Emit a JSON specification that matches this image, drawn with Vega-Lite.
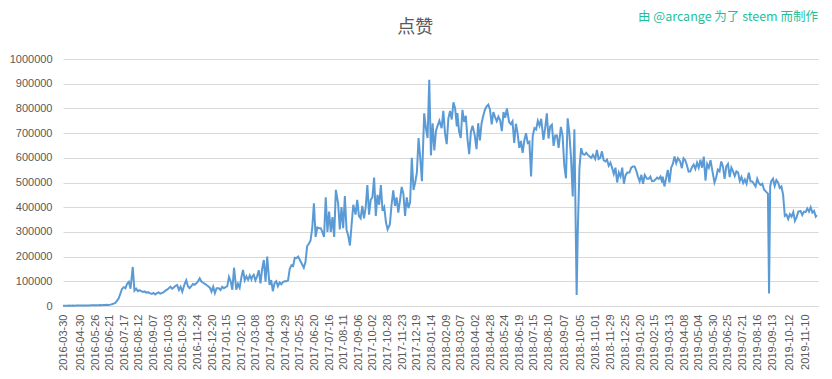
{
"$schema":"https://vega.github.io/schema/vega-lite/v6.json",
"width":755,"height":247,
"autosize":{"type":"none"},
"padding":{"left":63,"top":59,"right":14,"bottom":73},
"background":"white",
"config":{"view":{"stroke":null},"font":"Liberation Sans"},
"resolve":{"axis":{"x":"independent","y":"independent"}},
"layer":[
{"data":{"values":[
{"d":"2016-03-30","v":1000},
{"d":"2016-04-01","v":1200},{"d":"2016-04-04","v":1500},{"d":"2016-04-07","v":1300},{"d":"2016-04-10","v":1600},{"d":"2016-04-13","v":1400},{"d":"2016-04-16","v":1800},{"d":"2016-04-19","v":1500},{"d":"2016-04-22","v":1700},{"d":"2016-04-25","v":1900},{"d":"2016-04-28","v":1600},
{"d":"2016-05-01","v":2000},{"d":"2016-05-04","v":1800},{"d":"2016-05-07","v":2300},{"d":"2016-05-10","v":2100},{"d":"2016-05-13","v":2500},{"d":"2016-05-16","v":2200},{"d":"2016-05-19","v":2800},{"d":"2016-05-22","v":2600},{"d":"2016-05-25","v":3000},{"d":"2016-05-28","v":2700},
{"d":"2016-06-01","v":3500},{"d":"2016-06-04","v":4000},{"d":"2016-06-07","v":3200},{"d":"2016-06-10","v":4500},{"d":"2016-06-13","v":3800},{"d":"2016-06-16","v":4800},{"d":"2016-06-19","v":4200},{"d":"2016-06-22","v":5500},{"d":"2016-06-25","v":7000},{"d":"2016-06-28","v":9500},
{"d":"2016-07-01","v":12000},{"d":"2016-07-04","v":22000},{"d":"2016-07-07","v":31000},{"d":"2016-07-10","v":50000},{"d":"2016-07-13","v":70000},{"d":"2016-07-16","v":76000},{"d":"2016-07-19","v":72000},{"d":"2016-07-22","v":90000},{"d":"2016-07-25","v":98000},{"d":"2016-07-28","v":70000},
{"d":"2016-08-01","v":158000},{"d":"2016-08-04","v":62000},{"d":"2016-08-07","v":70000},{"d":"2016-08-10","v":60000},{"d":"2016-08-13","v":64000},{"d":"2016-08-16","v":60000},{"d":"2016-08-19","v":57000},{"d":"2016-08-22","v":59000},{"d":"2016-08-25","v":54000},{"d":"2016-08-28","v":56000},
{"d":"2016-09-01","v":51000},{"d":"2016-09-04","v":49000},{"d":"2016-09-07","v":53000},{"d":"2016-09-10","v":47000},{"d":"2016-09-13","v":52000},{"d":"2016-09-16","v":55000},{"d":"2016-09-19","v":50000},{"d":"2016-09-22","v":53000},{"d":"2016-09-25","v":56000},{"d":"2016-09-28","v":62000},
{"d":"2016-10-01","v":66000},{"d":"2016-10-04","v":72000},{"d":"2016-10-07","v":78000},{"d":"2016-10-10","v":70000},{"d":"2016-10-13","v":75000},{"d":"2016-10-16","v":82000},{"d":"2016-10-19","v":85000},{"d":"2016-10-22","v":65000},{"d":"2016-10-25","v":78000},{"d":"2016-10-28","v":58000},
{"d":"2016-11-01","v":88000},{"d":"2016-11-04","v":104000},{"d":"2016-11-07","v":80000},{"d":"2016-11-10","v":72000},{"d":"2016-11-13","v":80000},{"d":"2016-11-16","v":89000},{"d":"2016-11-19","v":86000},{"d":"2016-11-22","v":92000},{"d":"2016-11-25","v":100000},{"d":"2016-11-28","v":112000},
{"d":"2016-12-01","v":99000},{"d":"2016-12-04","v":94000},{"d":"2016-12-07","v":90000},{"d":"2016-12-10","v":85000},{"d":"2016-12-13","v":80000},{"d":"2016-12-16","v":74000},{"d":"2016-12-19","v":58000},{"d":"2016-12-22","v":78000},{"d":"2016-12-25","v":52000},{"d":"2016-12-28","v":72000},
{"d":"2017-01-01","v":72000},{"d":"2017-01-04","v":65000},{"d":"2017-01-07","v":78000},{"d":"2017-01-10","v":72000},{"d":"2017-01-13","v":76000},{"d":"2017-01-16","v":80000},{"d":"2017-01-19","v":118000},{"d":"2017-01-22","v":100000},{"d":"2017-01-25","v":66000},{"d":"2017-01-28","v":155000},
{"d":"2017-02-01","v":66000},{"d":"2017-02-04","v":90000},{"d":"2017-02-07","v":74000},{"d":"2017-02-10","v":115000},{"d":"2017-02-13","v":146000},{"d":"2017-02-16","v":104000},{"d":"2017-02-19","v":120000},{"d":"2017-02-22","v":106000},{"d":"2017-02-25","v":124000},{"d":"2017-02-28","v":108000},
{"d":"2017-03-01","v":118000},{"d":"2017-03-04","v":126000},{"d":"2017-03-07","v":104000},{"d":"2017-03-10","v":120000},{"d":"2017-03-13","v":145000},{"d":"2017-03-16","v":92000},{"d":"2017-03-19","v":150000},{"d":"2017-03-22","v":186000},{"d":"2017-03-25","v":98000},{"d":"2017-03-28","v":200000},
{"d":"2017-04-01","v":85000},{"d":"2017-04-04","v":105000},{"d":"2017-04-07","v":60000},{"d":"2017-04-10","v":92000},{"d":"2017-04-13","v":100000},{"d":"2017-04-16","v":80000},{"d":"2017-04-19","v":95000},{"d":"2017-04-22","v":88000},{"d":"2017-04-25","v":97000},{"d":"2017-04-28","v":100000},
{"d":"2017-05-01","v":100000},{"d":"2017-05-04","v":104000},{"d":"2017-05-07","v":150000},{"d":"2017-05-10","v":165000},{"d":"2017-05-13","v":162000},{"d":"2017-05-16","v":195000},{"d":"2017-05-19","v":194000},{"d":"2017-05-22","v":200000},{"d":"2017-05-25","v":186000},{"d":"2017-05-28","v":173000},
{"d":"2017-06-01","v":155000},{"d":"2017-06-04","v":178000},{"d":"2017-06-07","v":242000},{"d":"2017-06-10","v":252000},{"d":"2017-06-13","v":265000},{"d":"2017-06-16","v":315000},{"d":"2017-06-19","v":416000},{"d":"2017-06-22","v":280000},{"d":"2017-06-25","v":318000},{"d":"2017-06-28","v":315000},
{"d":"2017-07-01","v":315000},{"d":"2017-07-04","v":300000},{"d":"2017-07-07","v":280000},{"d":"2017-07-10","v":440000},{"d":"2017-07-13","v":300000},{"d":"2017-07-16","v":382000},{"d":"2017-07-19","v":300000},{"d":"2017-07-22","v":360000},{"d":"2017-07-25","v":280000},{"d":"2017-07-28","v":470000},
{"d":"2017-08-01","v":416000},{"d":"2017-08-04","v":310000},{"d":"2017-08-07","v":400000},{"d":"2017-08-10","v":315000},{"d":"2017-08-13","v":445000},{"d":"2017-08-16","v":308000},{"d":"2017-08-19","v":285000},{"d":"2017-08-22","v":245000},{"d":"2017-08-25","v":330000},{"d":"2017-08-28","v":410000},
{"d":"2017-09-01","v":370000},{"d":"2017-09-04","v":430000},{"d":"2017-09-07","v":365000},{"d":"2017-09-10","v":355000},{"d":"2017-09-13","v":405000},{"d":"2017-09-16","v":355000},{"d":"2017-09-19","v":400000},{"d":"2017-09-22","v":490000},{"d":"2017-09-25","v":370000},{"d":"2017-09-28","v":430000},
{"d":"2017-10-01","v":440000},{"d":"2017-10-04","v":520000},{"d":"2017-10-07","v":365000},{"d":"2017-10-10","v":450000},{"d":"2017-10-13","v":410000},{"d":"2017-10-16","v":490000},{"d":"2017-10-19","v":385000},{"d":"2017-10-22","v":400000},{"d":"2017-10-25","v":340000},{"d":"2017-10-28","v":310000},
{"d":"2017-11-01","v":330000},{"d":"2017-11-04","v":410000},{"d":"2017-11-07","v":468000},{"d":"2017-11-10","v":405000},{"d":"2017-11-13","v":440000},{"d":"2017-11-16","v":378000},{"d":"2017-11-19","v":428000},{"d":"2017-11-22","v":482000},{"d":"2017-11-25","v":455000},{"d":"2017-11-28","v":365000},
{"d":"2017-12-01","v":440000},{"d":"2017-12-04","v":396000},{"d":"2017-12-07","v":420000},{"d":"2017-12-10","v":600000},{"d":"2017-12-13","v":470000},{"d":"2017-12-16","v":500000},{"d":"2017-12-19","v":540000},{"d":"2017-12-22","v":680000},{"d":"2017-12-25","v":600000},{"d":"2017-12-28","v":505000},
{"d":"2018-01-01","v":780000},{"d":"2018-01-04","v":720000},{"d":"2018-01-07","v":680000},{"d":"2018-01-10","v":916000},{"d":"2018-01-13","v":610000},{"d":"2018-01-16","v":740000},{"d":"2018-01-19","v":630000},{"d":"2018-01-22","v":710000},{"d":"2018-01-25","v":730000},{"d":"2018-01-28","v":750000},
{"d":"2018-02-01","v":720000},{"d":"2018-02-04","v":790000},{"d":"2018-02-07","v":700000},{"d":"2018-02-10","v":655000},{"d":"2018-02-13","v":760000},{"d":"2018-02-16","v":790000},{"d":"2018-02-19","v":755000},{"d":"2018-02-22","v":825000},{"d":"2018-02-25","v":800000},{"d":"2018-02-28","v":727000},
{"d":"2018-03-01","v":781000},{"d":"2018-03-04","v":707000},{"d":"2018-03-07","v":680000},{"d":"2018-03-10","v":794000},{"d":"2018-03-13","v":745000},{"d":"2018-03-16","v":770000},{"d":"2018-03-19","v":675000},{"d":"2018-03-22","v":615000},{"d":"2018-03-25","v":705000},{"d":"2018-03-28","v":730000},
{"d":"2018-04-01","v":690000},{"d":"2018-04-04","v":635000},{"d":"2018-04-07","v":740000},{"d":"2018-04-10","v":670000},{"d":"2018-04-13","v":740000},{"d":"2018-04-16","v":770000},{"d":"2018-04-19","v":795000},{"d":"2018-04-22","v":808000},{"d":"2018-04-25","v":815000},{"d":"2018-04-28","v":795000},
{"d":"2018-05-01","v":735000},{"d":"2018-05-04","v":785000},{"d":"2018-05-07","v":765000},{"d":"2018-05-10","v":748000},{"d":"2018-05-13","v":767000},{"d":"2018-05-16","v":752000},{"d":"2018-05-19","v":708000},{"d":"2018-05-22","v":785000},{"d":"2018-05-25","v":762000},{"d":"2018-05-28","v":800000},
{"d":"2018-06-01","v":745000},{"d":"2018-06-04","v":736000},{"d":"2018-06-07","v":748000},{"d":"2018-06-10","v":660000},{"d":"2018-06-13","v":738000},{"d":"2018-06-16","v":700000},{"d":"2018-06-19","v":640000},{"d":"2018-06-22","v":668000},{"d":"2018-06-25","v":620000},{"d":"2018-06-28","v":670000},
{"d":"2018-07-01","v":700000},{"d":"2018-07-04","v":660000},{"d":"2018-07-07","v":665000},{"d":"2018-07-10","v":524000},{"d":"2018-07-13","v":690000},{"d":"2018-07-16","v":720000},{"d":"2018-07-19","v":715000},{"d":"2018-07-22","v":750000},{"d":"2018-07-25","v":730000},{"d":"2018-07-28","v":758000},
{"d":"2018-08-01","v":673000},{"d":"2018-08-04","v":720000},{"d":"2018-08-07","v":780000},{"d":"2018-08-10","v":678000},{"d":"2018-08-13","v":727000},{"d":"2018-08-16","v":734000},{"d":"2018-08-19","v":648000},{"d":"2018-08-22","v":690000},{"d":"2018-08-25","v":690000},{"d":"2018-08-28","v":640000},
{"d":"2018-09-01","v":725000},{"d":"2018-09-04","v":690000},{"d":"2018-09-07","v":570000},{"d":"2018-09-10","v":517000},{"d":"2018-09-13","v":760000},{"d":"2018-09-16","v":700000},{"d":"2018-09-19","v":600000},{"d":"2018-09-22","v":443000},{"d":"2018-09-25","v":715000},{"d":"2018-09-29","v":45000},
{"d":"2018-10-01","v":300000},{"d":"2018-10-04","v":560000},{"d":"2018-10-07","v":639000},{"d":"2018-10-10","v":615000},{"d":"2018-10-13","v":612000},{"d":"2018-10-16","v":620000},{"d":"2018-10-19","v":612000},{"d":"2018-10-22","v":605000},{"d":"2018-10-25","v":600000},{"d":"2018-10-28","v":612000},
{"d":"2018-11-01","v":595000},{"d":"2018-11-04","v":632000},{"d":"2018-11-07","v":595000},{"d":"2018-11-10","v":600000},{"d":"2018-11-13","v":626000},{"d":"2018-11-16","v":590000},{"d":"2018-11-19","v":585000},{"d":"2018-11-22","v":592000},{"d":"2018-11-25","v":568000},{"d":"2018-11-28","v":580000},
{"d":"2018-12-01","v":560000},{"d":"2018-12-04","v":535000},{"d":"2018-12-07","v":560000},{"d":"2018-12-10","v":500000},{"d":"2018-12-13","v":540000},{"d":"2018-12-16","v":524000},{"d":"2018-12-19","v":560000},{"d":"2018-12-22","v":495000},{"d":"2018-12-25","v":530000},{"d":"2018-12-28","v":540000},
{"d":"2019-01-01","v":540000},{"d":"2019-01-04","v":560000},{"d":"2019-01-07","v":565000},{"d":"2019-01-10","v":565000},{"d":"2019-01-13","v":548000},{"d":"2019-01-16","v":524000},{"d":"2019-01-19","v":505000},{"d":"2019-01-22","v":531000},{"d":"2019-01-25","v":495000},{"d":"2019-01-28","v":530000},
{"d":"2019-02-01","v":515000},{"d":"2019-02-04","v":515000},{"d":"2019-02-07","v":524000},{"d":"2019-02-10","v":505000},{"d":"2019-02-13","v":506000},{"d":"2019-02-16","v":512000},{"d":"2019-02-19","v":520000},{"d":"2019-02-22","v":515000},{"d":"2019-02-25","v":524000},{"d":"2019-02-28","v":500000},
{"d":"2019-03-01","v":524000},{"d":"2019-03-04","v":484000},{"d":"2019-03-07","v":517000},{"d":"2019-03-10","v":551000},{"d":"2019-03-13","v":500000},{"d":"2019-03-16","v":560000},{"d":"2019-03-19","v":575000},{"d":"2019-03-22","v":605000},{"d":"2019-03-25","v":578000},{"d":"2019-03-28","v":598000},
{"d":"2019-04-01","v":585000},{"d":"2019-04-04","v":558000},{"d":"2019-04-07","v":598000},{"d":"2019-04-10","v":590000},{"d":"2019-04-13","v":570000},{"d":"2019-04-16","v":544000},{"d":"2019-04-19","v":545000},{"d":"2019-04-22","v":562000},{"d":"2019-04-25","v":572000},{"d":"2019-04-28","v":555000},
{"d":"2019-05-01","v":580000},{"d":"2019-05-04","v":560000},{"d":"2019-05-07","v":592000},{"d":"2019-05-10","v":560000},{"d":"2019-05-13","v":605000},{"d":"2019-05-16","v":508000},{"d":"2019-05-19","v":575000},{"d":"2019-05-22","v":560000},{"d":"2019-05-25","v":590000},{"d":"2019-05-28","v":550000},
{"d":"2019-06-01","v":500000},{"d":"2019-06-04","v":520000},{"d":"2019-06-07","v":552000},{"d":"2019-06-10","v":545000},{"d":"2019-06-13","v":585000},{"d":"2019-06-16","v":565000},{"d":"2019-06-19","v":515000},{"d":"2019-06-22","v":565000},{"d":"2019-06-25","v":575000},{"d":"2019-06-28","v":522000},
{"d":"2019-07-01","v":560000},{"d":"2019-07-04","v":545000},{"d":"2019-07-07","v":526000},{"d":"2019-07-10","v":545000},{"d":"2019-07-13","v":540000},{"d":"2019-07-16","v":506000},{"d":"2019-07-19","v":522000},{"d":"2019-07-22","v":498000},{"d":"2019-07-25","v":512000},{"d":"2019-07-28","v":495000},
{"d":"2019-08-01","v":540000},{"d":"2019-08-04","v":505000},{"d":"2019-08-07","v":504000},{"d":"2019-08-10","v":495000},{"d":"2019-08-13","v":484000},{"d":"2019-08-16","v":515000},{"d":"2019-08-19","v":497000},{"d":"2019-08-22","v":490000},{"d":"2019-08-25","v":495000},{"d":"2019-08-28","v":472000},
{"d":"2019-09-01","v":462000},{"d":"2019-09-04","v":455000},{"d":"2019-09-06","v":51000},{"d":"2019-09-08","v":484000},{"d":"2019-09-10","v":505000},{"d":"2019-09-13","v":515000},{"d":"2019-09-16","v":486000},{"d":"2019-09-19","v":510000},{"d":"2019-09-22","v":500000},{"d":"2019-09-25","v":478000},{"d":"2019-09-28","v":484000},
{"d":"2019-10-01","v":450000},{"d":"2019-10-04","v":365000},{"d":"2019-10-07","v":370000},{"d":"2019-10-10","v":352000},{"d":"2019-10-13","v":372000},{"d":"2019-10-16","v":362000},{"d":"2019-10-19","v":380000},{"d":"2019-10-22","v":345000},{"d":"2019-10-25","v":360000},{"d":"2019-10-28","v":382000},
{"d":"2019-11-01","v":385000},{"d":"2019-11-04","v":368000},{"d":"2019-11-07","v":382000},{"d":"2019-11-10","v":380000},{"d":"2019-11-13","v":395000},{"d":"2019-11-16","v":382000},{"d":"2019-11-19","v":400000},{"d":"2019-11-22","v":378000},{"d":"2019-11-25","v":385000},{"d":"2019-11-28","v":362000},{"d":"2019-11-30","v":368000}
]},
"mark":{"type":"line","color":"#5b9bd5","strokeWidth":2},
"encoding":{
"x":{"field":"d","type":"temporal","title":null,
"scale":{"type":"utc","domain":[{"year":2016,"month":3,"date":30,"utc":true},{"year":2019,"month":12,"date":2,"utc":true}]},
"axis":{"labelExpr":"utcFormat(datum.value, '%Y-%m-%d')","labelAngle":-90,"labelFontSize":11,"labelColor":"#595959","labelPadding":8,"labelOverlap":false,"labelFlush":false,"ticks":false,"grid":false,"domainColor":"#d9d9d9",
"values":[
{"year":2016,"month":3,"date":30,"utc":true},{"year":2016,"month":4,"date":30,"utc":true},{"year":2016,"month":5,"date":26,"utc":true},{"year":2016,"month":6,"date":21,"utc":true},{"year":2016,"month":7,"date":17,"utc":true},{"year":2016,"month":8,"date":12,"utc":true},{"year":2016,"month":9,"date":7,"utc":true},{"year":2016,"month":10,"date":3,"utc":true},{"year":2016,"month":10,"date":29,"utc":true},{"year":2016,"month":11,"date":24,"utc":true},{"year":2016,"month":12,"date":20,"utc":true},
{"year":2017,"month":1,"date":15,"utc":true},{"year":2017,"month":2,"date":10,"utc":true},{"year":2017,"month":3,"date":8,"utc":true},{"year":2017,"month":4,"date":3,"utc":true},{"year":2017,"month":4,"date":29,"utc":true},{"year":2017,"month":5,"date":25,"utc":true},{"year":2017,"month":6,"date":20,"utc":true},{"year":2017,"month":7,"date":16,"utc":true},{"year":2017,"month":8,"date":11,"utc":true},{"year":2017,"month":9,"date":6,"utc":true},{"year":2017,"month":10,"date":2,"utc":true},{"year":2017,"month":10,"date":28,"utc":true},{"year":2017,"month":11,"date":23,"utc":true},{"year":2017,"month":12,"date":19,"utc":true},
{"year":2018,"month":1,"date":14,"utc":true},{"year":2018,"month":2,"date":9,"utc":true},{"year":2018,"month":3,"date":7,"utc":true},{"year":2018,"month":4,"date":2,"utc":true},{"year":2018,"month":4,"date":28,"utc":true},{"year":2018,"month":5,"date":24,"utc":true},{"year":2018,"month":6,"date":19,"utc":true},{"year":2018,"month":7,"date":15,"utc":true},{"year":2018,"month":8,"date":10,"utc":true},{"year":2018,"month":9,"date":7,"utc":true},{"year":2018,"month":10,"date":5,"utc":true},{"year":2018,"month":11,"date":1,"utc":true},{"year":2018,"month":11,"date":29,"utc":true},{"year":2018,"month":12,"date":25,"utc":true},
{"year":2019,"month":1,"date":20,"utc":true},{"year":2019,"month":2,"date":15,"utc":true},{"year":2019,"month":3,"date":13,"utc":true},{"year":2019,"month":4,"date":8,"utc":true},{"year":2019,"month":5,"date":4,"utc":true},{"year":2019,"month":5,"date":30,"utc":true},{"year":2019,"month":6,"date":25,"utc":true},{"year":2019,"month":7,"date":21,"utc":true},{"year":2019,"month":8,"date":16,"utc":true},{"year":2019,"month":9,"date":13,"utc":true},{"year":2019,"month":10,"date":12,"utc":true},{"year":2019,"month":11,"date":10,"utc":true}
]}},
"y":{"field":"v","type":"quantitative","title":null,
"scale":{"domain":[0,1000000],"nice":false},
"axis":{"values":[0,100000,200000,300000,400000,500000,600000,700000,800000,900000,1000000],"format":"d","labelFontSize":11,"labelColor":"#595959","labelPadding":11,"ticks":false,"domain":false,"gridColor":"#d9d9d9","gridWidth":1}}
}},
{"data":{"values":[{"t":"点赞"}]},
"mark":{"type":"text","align":"center","baseline":"middle","font":"Noto Sans CJK SC","fontSize":18,"color":"#595959"},
"encoding":{
"x":{"datum":{"year":2017,"month":12,"date":16,"utc":true},"type":"temporal","axis":null},
"y":{"datum":1125000,"type":"quantitative","axis":null},
"text":{"field":"t","type":"nominal"}}},
{"data":{"values":[{"t":"由 @arcange 为了 steem 而制作"}]},
"mark":{"type":"text","align":"right","baseline":"middle","font":"Noto Sans CJK SC","fontSize":12.5,"color":"#1fbf9a"},
"encoding":{
"x":{"datum":{"year":2019,"month":12,"date":2,"utc":true},"type":"temporal","axis":null},
"y":{"datum":1170000,"type":"quantitative","axis":null},
"text":{"field":"t","type":"nominal"}}}
]
}
